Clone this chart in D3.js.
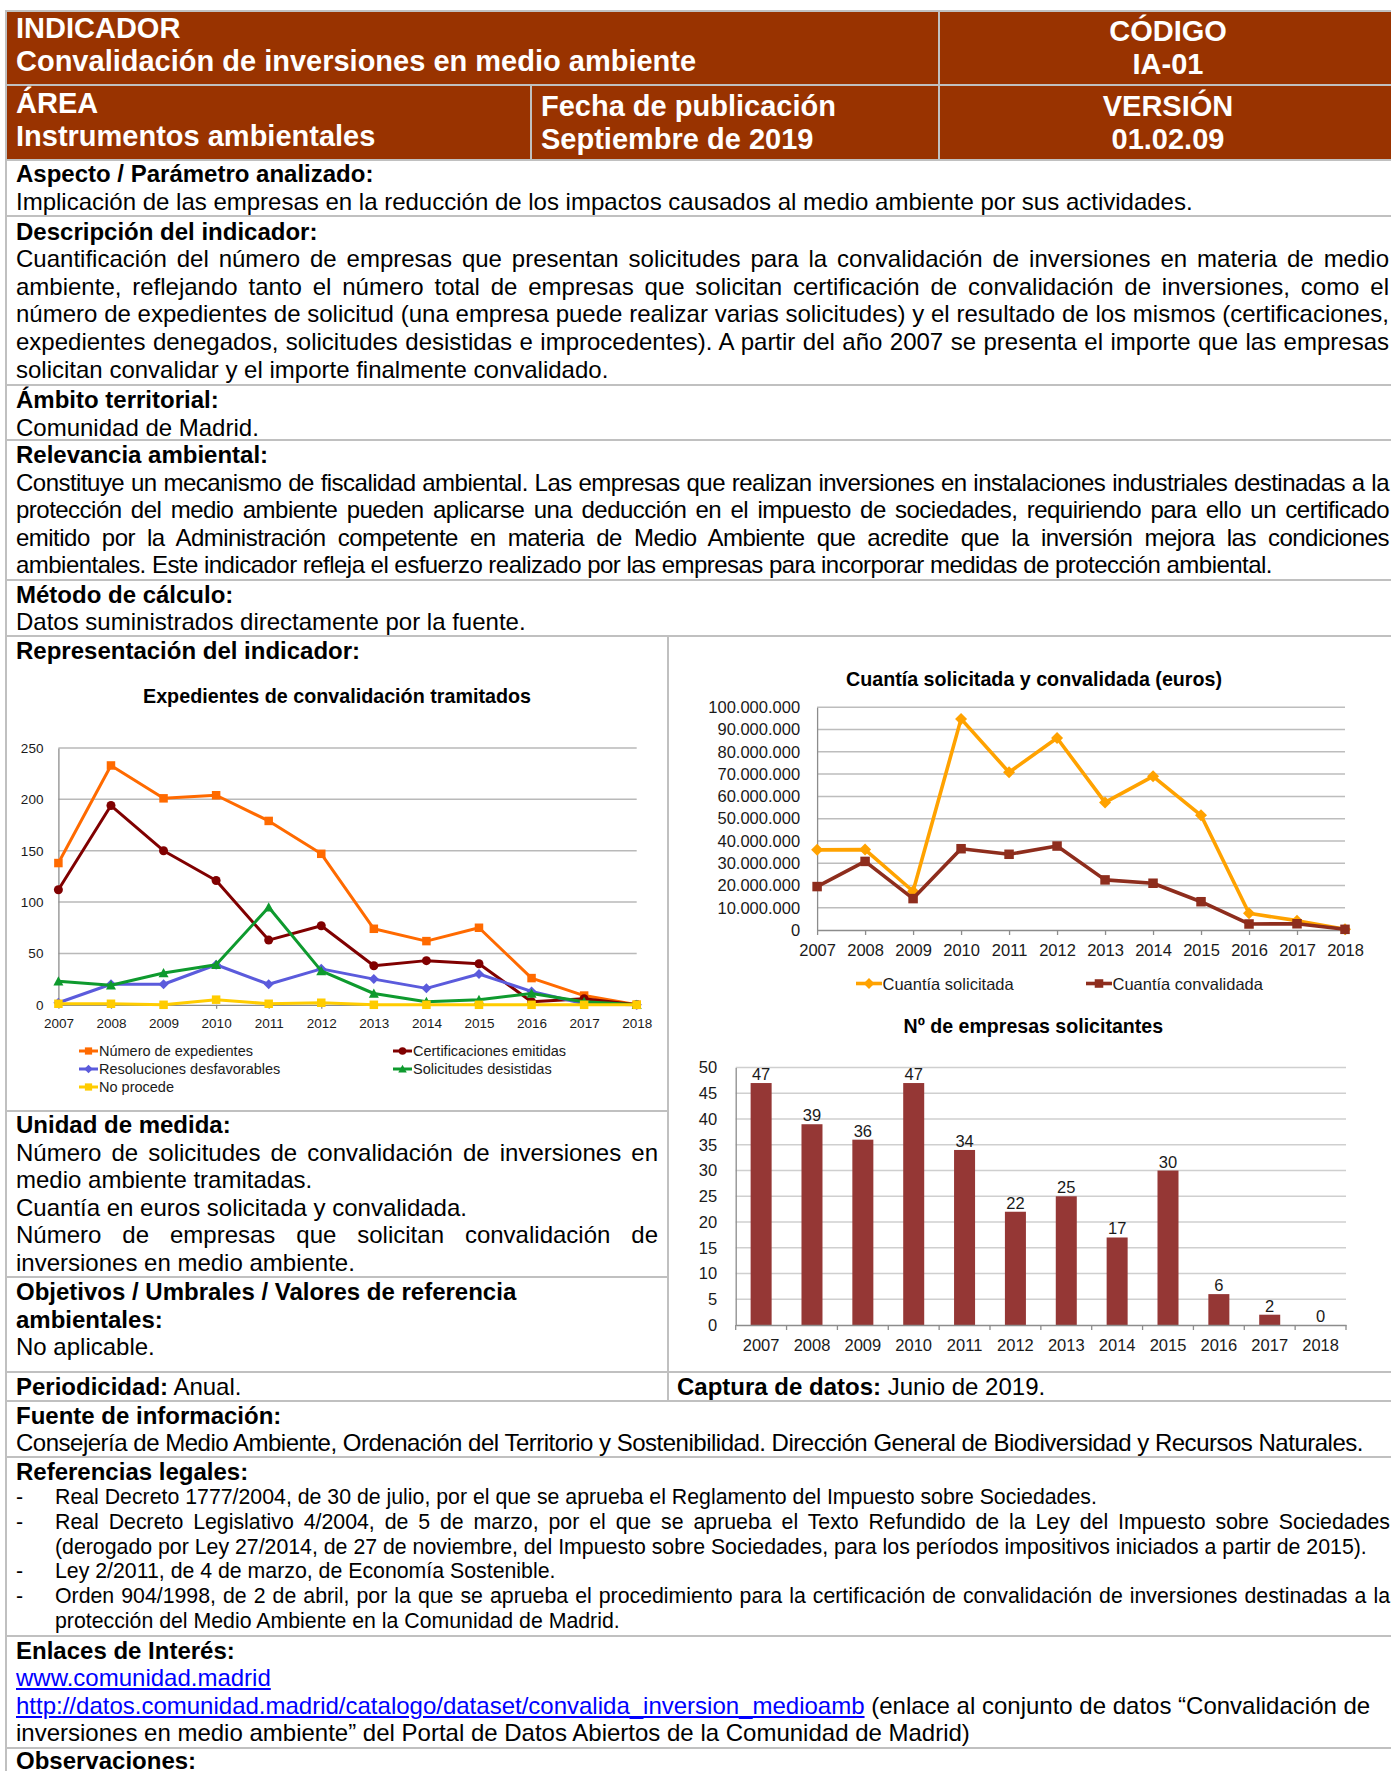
<!DOCTYPE html>
<html><head><meta charset="utf-8">
<script src="https://cdn.jsdelivr.net/npm/d3@7"></script>
<style>
body{margin:0;background:#fff;}
#page{position:relative;width:1391px;height:1771px;overflow:hidden;font-family:"Liberation Sans",Arial,Helvetica,sans-serif;}
#page svg{position:absolute;left:0;top:0;}
.t{position:absolute;white-space:nowrap;color:#000;}
.lnk{color:#0000ff;text-decoration:underline;}
</style></head><body><div id="page"></div>
<script>
// ---------------- DATA ----------------
const years = [2007,2008,2009,2010,2011,2012,2013,2014,2015,2016,2017,2018];
const numExpedientes        = [138,233,201,204,179,147,74,62,75,26,9,0];
const certificaciones       = [112,194,150,121,63,77,38,43,40,3,6,0];
const resolucionesDesfav    = [2,20,20,39,20,35,25,16,30,13,1,0];
const solicitudesDesistidas = [23,19,31,39,95,33,11,3,5,11,3,0];
const noProcede             = [1,1,0,5,1,2,0,0,0,0,0,0];
const cuantiaSolicitada  = [36000000,36100000,17400000,94800000,70800000,86200000,57300000,69000000,51500000,7500000,4200000,300000];
const cuantiaConvalidada = [19500000,30800000,14100000,36500000,34000000,37700000,22500000,21000000,12700000,2700000,2800000,300000];
const empresas = [47,39,36,47,34,22,25,17,30,6,2,0];
const leftTicks = [0,50,100,150,200,250];
const euroTicks = [0,10000000,20000000,30000000,40000000,50000000,60000000,70000000,80000000,90000000,100000000];
const empresaTicks = [0,5,10,15,20,25,30,35,40,45,50];
const leftNames = ['Número de expedientes','Certificaciones emitidas','Resoluciones desfavorables','Solicitudes desistidas','No procede'];
const rightNames = ['Cuantía solicitada','Cuantía convalidada'];

// ---------------- SETUP ----------------
const FONT = '"Liberation Sans", Arial, Helvetica, sans-serif';
const NARROW = '"Liberation Sans Narrow","Arial Narrow","Liberation Sans",Arial,sans-serif';
const page = d3.select('#page');
const svg = page.append('svg').attr('width',1391).attr('height',1771).style('font-family',FONT);

const BORDER = '#c0c0c0';
svg.append('rect').attr('x',6).attr('y',11).attr('width',1391).attr('height',149).attr('fill','#993300');
function hline(y,x1,x2){svg.append('line').attr('x1',x1).attr('x2',x2).attr('y1',y).attr('y2',y).attr('stroke',BORDER).attr('stroke-width',2);}
function vline(x,y1,y2){svg.append('line').attr('x1',x).attr('x2',x).attr('y1',y1).attr('y2',y2).attr('stroke',BORDER).attr('stroke-width',2);}
[11,85,160,216,385,440,580,636,1372,1401,1457,1636,1748].forEach(y=>hline(y,5,1391));
[1111,1277].forEach(y=>hline(y,5,668));
vline(6,10,1771); vline(939,10,160); vline(531,85,160); vline(668,636,1401);

// ---------------- TEXT ----------------
function txt(x, top, html, o={}){
  const size=o.size||24, lh=o.lh||size*1.15;
  const d=page.append('div').attr('class','t')
    .style('left',x+'px').style('top',top+'px')
    .style('font-size',size+'px').style('line-height',lh+'px')
    .style('font-weight',o.bold?'bold':'normal')
    .style('color',o.color||'#000').html(html);
  const baseLs = o.ls!=null ? o.ls : 0;
  if(o.ls!=null) d.style('letter-spacing',o.ls+'px');
  if(o.cw){d.style('left',(o.cx-o.cw/2)+'px').style('width',o.cw+'px').style('text-align','center');}
  if(o.fit){
    const w=d.node().getBoundingClientRect().width;
    const n=d.text().length;
    d.style('letter-spacing',(baseLs+(o.fit-w)/n)+'px');
  }
  if(o.justify){
    const w=d.node().getBoundingClientRect().width;
    const n=(d.text().match(/ /g)||[]).length;
    if(n) d.style('word-spacing',((o.justify-w)/n)+'px');
  }
  return d;
}
const W={size:29,bold:true,color:'#fff',lh:33.35};
txt(16,11.5,'INDICADOR',W);
txt(16,44.85,'Convalidación de inversiones en medio ambiente',W);
txt(0,15,'CÓDIGO',Object.assign({cx:1168,cw:458},W));
txt(0,48.35,'IA-01',Object.assign({cx:1168,cw:458},W));
txt(16,86.5,'ÁREA',W);
txt(16,119.85,'Instrumentos ambientales',W);
txt(541,89.5,'Fecha de publicación',W);
txt(541,122.85,'Septiembre de 2019',W);
txt(0,89.5,'VERSIÓN',Object.assign({cx:1168,cw:458},W));
txt(0,122.85,'01.02.09',Object.assign({cx:1168,cw:458},W));

const LH=27.6, FULLW=1373;
function para(x, top, lines, width, o={}){
  lines.forEach((l,i)=>{
    const last = (i===lines.length-1) || o.noJust;
    txt(x, top+i*(o.lh||LH), l, Object.assign({}, o, last?(o.lastFit?{fit:o.lastFit}:{}):{justify:width}));
  });
}
txt(16,160,'Aspecto / Parámetro analizado:',{bold:true});
txt(16,187.6,'Implicación de las empresas en la reducción de los impactos causados al medio ambiente por sus actividades.');
txt(16,217.5,'Descripción del indicador:',{bold:true});
para(16,245.1,[
 'Cuantificación del número de empresas que presentan solicitudes para la convalidación de inversiones en materia de medio',
 'ambiente, reflejando tanto el número total de empresas que solicitan certificación de convalidación de inversiones, como el',
 'número de expedientes de solicitud (una empresa puede realizar varias solicitudes) y el resultado de los mismos (certificaciones,',
 'expedientes denegados, solicitudes desistidas e improcedentes). A partir del año 2007 se presenta el importe que las empresas',
 'solicitan convalidar y el importe finalmente convalidado.'],FULLW);
txt(16,386,'Ámbito territorial:',{bold:true});
txt(16,413.6,'Comunidad de Madrid.');
txt(16,441,'Relevancia ambiental:',{bold:true});
para(16,468.6,[
 'Constituye un mecanismo de fiscalidad ambiental. Las empresas que realizan inversiones en instalaciones industriales destinadas a la',
 'protección del medio ambiente pueden aplicarse una deducción en el impuesto de sociedades, requiriendo para ello un certificado',
 'emitido por la Administración competente en materia de Medio Ambiente que acredite que la inversión mejora las condiciones',
 'ambientales. Este indicador refleja el esfuerzo realizado por las empresas para incorporar medidas de protección ambiental.'],FULLW,{ls:-0.52,lastFit:1256});
txt(16,580.5,'Método de cálculo:',{bold:true});
txt(16,608.1,'Datos suministrados directamente por la fuente.');
txt(16,636.5,'Representación del indicador:',{bold:true});

txt(16,1111,'Unidad de medida:',{bold:true});
const LW=642;
txt(16,1138.6,'Número de solicitudes de convalidación de inversiones en',{justify:LW});
txt(16,1166.2,'medio ambiente tramitadas.');
txt(16,1193.8,'Cuantía en euros solicitada y convalidada.');
txt(16,1221.4,'Número de empresas que solicitan convalidación de',{justify:LW});
txt(16,1249,'inversiones en medio ambiente.');
txt(16,1278,'Objetivos / Umbrales / Valores de referencia',{bold:true});
txt(16,1305.6,'ambientales:',{bold:true});
txt(16,1333.2,'No aplicable.');

txt(16,1372.5,'<b>Periodicidad:</b> Anual.');
txt(677,1372.5,'<b>Captura de datos:</b> Junio de 2019.');
txt(16,1401.5,'Fuente de información:',{bold:true});
txt(16,1429.1,'Consejería de Medio Ambiente, Ordenación del Territorio y Sostenibilidad. Dirección General de Biodiversidad y Recursos Naturales.',{fit:1347});
txt(16,1458,'Referencias legales:',{bold:true});
const RS={size:21.3,lh:24.8};
const refTop=1485, refLH=24.8, REFW=1335;
const refs=[
 {dash:true, t:'Real Decreto 1777/2004, de 30 de julio, por el que se aprueba el Reglamento del Impuesto sobre Sociedades.'},
 {dash:true, t:'Real Decreto Legislativo 4/2004, de 5 de marzo, por el que se aprueba el Texto Refundido de la Ley del Impuesto sobre Sociedades', j:true},
 {dash:false,t:'(derogado por Ley 27/2014, de 27 de noviembre, del Impuesto sobre Sociedades, para los períodos impositivos iniciados a partir de 2015).'},
 {dash:true, t:'Ley 2/2011, de 4 de marzo, de Economía Sostenible.'},
 {dash:true, t:'Orden 904/1998, de 2 de abril, por la que se aprueba el procedimiento para la certificación de convalidación de inversiones destinadas a la', j:true},
 {dash:false,t:'protección del Medio Ambiente en la Comunidad de Madrid.'}];
refs.forEach((r,i)=>{
  if(r.dash) txt(16,refTop+i*refLH,'-',RS);
  txt(55,refTop+i*refLH,r.t,Object.assign({},RS,r.j?{justify:REFW}:{}));
});
txt(16,1637,'Enlaces de Interés:',{bold:true});
txt(16,1664.3,'<span class="lnk">www.comunidad.madrid</span>');
txt(16,1691.6,'<span class="lnk">http://datos.comunidad.madrid/catalogo/dataset/convalida_inversion_medioamb</span> (enlace al conjunto de datos “Convalidación de');
txt(16,1718.9,'inversiones en medio ambiente” del Portal de Datos Abiertos de la Comunidad de Madrid)');
txt(16,1747,'Observaciones:',{bold:true});

// ---------------- MARKERS ----------------
function marker(type,s){
  const h=s/2;
  if(type==='square') return `M${-h},${-h}H${h}V${h}H${-h}Z`;
  if(type==='diamond') return `M0,${-h}L${h},0L0,${h}L${-h},0Z`;
  if(type==='triangle') return `M0,${-h}L${h},${h*0.85}L${-h},${h*0.85}Z`;
  return d3.symbol(d3.symbolCircle,Math.PI*h*h)();
}
function styleAxis(g,size){
  g.attr('font-size',size).attr('font-family',FONT);
  g.selectAll('text').attr('fill','#1a1a1a');
  g.select('.domain').attr('stroke','#8c8c8c').attr('stroke-width',1.3);
  g.selectAll('.tick line').attr('stroke','#8c8c8c').attr('stroke-width',1.3);
}
function chartTitle(cx,baseline,width,label){
  svg.append('text').attr('x',cx).attr('y',baseline).attr('text-anchor','middle')
    .attr('font-family',NARROW).attr('font-weight','bold').attr('font-size',21)
    .attr('textLength',width).attr('lengthAdjust','spacingAndGlyphs').attr('fill','#000').text(label);
}

// ---------------- LEFT CHART ----------------
chartTitle(337,703,388,'Expedientes de convalidación tramitados');
const xL=d3.scalePoint().domain(years).range([58.4,636.7]);
const yL=d3.scaleLinear().domain([0,250]).range([1004.8,748]);
const gL=svg.append('g');
gL.append('g').selectAll('line').data(leftTicks.filter(d=>d>0)).join('line')
  .attr('x1',58.4).attr('x2',636.7).attr('y1',d=>yL(d)).attr('y2',d=>yL(d))
  .attr('stroke','#b9b9b9').attr('stroke-width',1.5);
const ayL=gL.append('g').attr('transform','translate(58.4,0)')
  .call(d3.axisLeft(yL).tickValues(leftTicks).tickSize(0).tickPadding(15).tickSizeOuter(0));
styleAxis(ayL,13.5);
const axL=gL.append('g').attr('transform','translate(0,1004.8)')
  .call(d3.axisBottom(xL).tickSize(4).tickPadding(10).tickFormat(d3.format('d')).tickSizeOuter(0));
styleAxis(axL,13.5);
const leftSeries=[
 {name:leftNames[0],values:numExpedientes,color:'#ff6a00',m:'square',ms:8.5},
 {name:leftNames[1],values:certificaciones,color:'#800000',m:'circle',ms:9},
 {name:leftNames[2],values:resolucionesDesfav,color:'#5b5bdc',m:'diamond',ms:10},
 {name:leftNames[3],values:solicitudesDesistidas,color:'#0e9a2e',m:'triangle',ms:10},
 {name:leftNames[4],values:noProcede,color:'#ffcc00',m:'square',ms:8.5}];
const lineL=d3.line().x((d,i)=>xL(years[i])).y(d=>yL(d));
leftSeries.forEach(s=>{
  const g=gL.append('g');
  g.append('path').attr('d',lineL(s.values)).attr('fill','none').attr('stroke',s.color).attr('stroke-width',3).attr('stroke-linejoin','round');
  g.selectAll('path.m').data(s.values).join('path').attr('class','m')
    .attr('transform',(d,i)=>`translate(${xL(years[i])},${yL(d)})`).attr('d',marker(s.m,s.ms)).attr('fill',s.color);
});
const legPos=[[79,1051],[393,1051],[79,1069],[393,1069],[79,1087]];
leftSeries.forEach((s,i)=>{
  const [x,y]=legPos[i];
  const g=gL.append('g').attr('transform',`translate(${x},${y})`);
  g.append('line').attr('x1',0).attr('x2',19).attr('stroke',s.color).attr('stroke-width',3);
  g.append('path').attr('transform','translate(9.5,0)').attr('d',marker(s.m,s.ms*0.85)).attr('fill',s.color);
  g.append('text').attr('x',20).attr('y',5).attr('font-size',14.5).attr('fill','#1a1a1a').text(s.name);
});

// ---------------- RIGHT TOP CHART ----------------
chartTitle(1034,685.5,376,'Cuantía solicitada y convalidada (euros)');
const euroFmt=d3.formatLocale({decimal:',',thousands:'.',grouping:[3],currency:['','']}).format(',.0f');
const xR=d3.scalePoint().domain(years).range([817.1,1345]);
const yR=d3.scaleLinear().domain([0,100000000]).range([930,707.3]);
const gR=svg.append('g');
gR.append('g').selectAll('line').data(euroTicks.filter(d=>d>0)).join('line')
  .attr('x1',817.1).attr('x2',1345).attr('y1',d=>yR(d)).attr('y2',d=>yR(d))
  .attr('stroke','#bdbdbd').attr('stroke-width',1.5);
const ayR=gR.append('g').attr('transform','translate(817.1,0)')
  .call(d3.axisLeft(yR).tickValues(euroTicks).tickFormat(euroFmt).tickSize(0).tickPadding(17).tickSizeOuter(0));
styleAxis(ayR,16.5);
const axR=gR.append('g').attr('transform','translate(0,930)')
  .call(d3.axisBottom(xR).tickSize(5).tickPadding(9.5).tickFormat(d3.format('d')).tickSizeOuter(0));
styleAxis(axR,16.5);
const rightSeries=[
 {name:rightNames[0],values:cuantiaSolicitada,color:'#ffa200',m:'diamond',ms:12},
 {name:rightNames[1],values:cuantiaConvalidada,color:'#8e2d1d',m:'square',ms:9.5}];
const lineR=d3.line().x((d,i)=>xR(years[i])).y(d=>yR(d));
rightSeries.forEach(s=>{
  const g=gR.append('g');
  g.append('path').attr('d',lineR(s.values)).attr('fill','none').attr('stroke',s.color).attr('stroke-width',3.6).attr('stroke-linejoin','round');
  g.selectAll('path.m').data(s.values).join('path').attr('class','m')
    .attr('transform',(d,i)=>`translate(${xR(years[i])},${yR(d)})`).attr('d',marker(s.m,s.ms)).attr('fill',s.color);
});
[[856,983.5],[1086,983.5]].forEach(([x,y],i)=>{
  const s=rightSeries[i];
  const g=gR.append('g').attr('transform',`translate(${x},${y})`);
  g.append('line').attr('x1',0).attr('x2',26).attr('stroke',s.color).attr('stroke-width',3.6);
  g.append('path').attr('transform','translate(13,0)').attr('d',marker(s.m,s.ms*0.9)).attr('fill',s.color);
  g.append('text').attr('x',26.5).attr('y',6).attr('font-size',16.5).attr('fill','#1a1a1a').text(s.name);
});

// ---------------- BOTTOM BAR CHART ----------------
chartTitle(1033.3,1033.3,259.5,'Nº de empresas solicitantes');
const xB=d3.scaleBand().domain(years).range([735.7,1346]).paddingInner(0.587).paddingOuter(0.2935);
const yB=d3.scaleLinear().domain([0,50]).range([1325,1067.6]);
const gB=svg.append('g');
gB.append('g').selectAll('line').data(empresaTicks.filter(d=>d>0)).join('line')
  .attr('x1',735.7).attr('x2',1346).attr('y1',d=>yB(d)).attr('y2',d=>yB(d))
  .attr('stroke','#cfcfcf').attr('stroke-width',1.5);
const ayB=gB.append('g').attr('transform','translate(735.7,0)')
  .call(d3.axisLeft(yB).tickValues(empresaTicks).tickSize(0).tickPadding(18.5).tickSizeOuter(0));
styleAxis(ayB,16.5);
gB.selectAll('rect.bar').data(empresas).join('rect').attr('class','bar')
  .attr('x',(d,i)=>xB(years[i])).attr('width',xB.bandwidth())
  .attr('y',d=>yB(d)).attr('height',d=>yB(0)-yB(d)).attr('fill','#953735');
gB.selectAll('text.lbl').data(empresas).join('text').attr('class','lbl')
  .attr('x',(d,i)=>xB(years[i])+xB.bandwidth()/2).attr('y',d=>yB(d)-3)
  .attr('text-anchor','middle').attr('font-size',16.5).attr('fill','#1a1a1a').text(d=>d);
const axB=gB.append('g').attr('transform','translate(0,1325)')
  .call(d3.axisBottom(xB).tickSize(0).tickPadding(14).tickFormat(d3.format('d')).tickSizeOuter(0));
styleAxis(axB,16.5);
const bStep=xB.step(), bStart=xB.range()[0];
gB.append('g').selectAll('line').data(d3.range(years.length+1)).join('line')
  .attr('x1',i=>bStart+i*bStep).attr('x2',i=>bStart+i*bStep).attr('y1',1325).attr('y2',1330)
  .attr('stroke','#8c8c8c').attr('stroke-width',1.3);
</script></body></html>
